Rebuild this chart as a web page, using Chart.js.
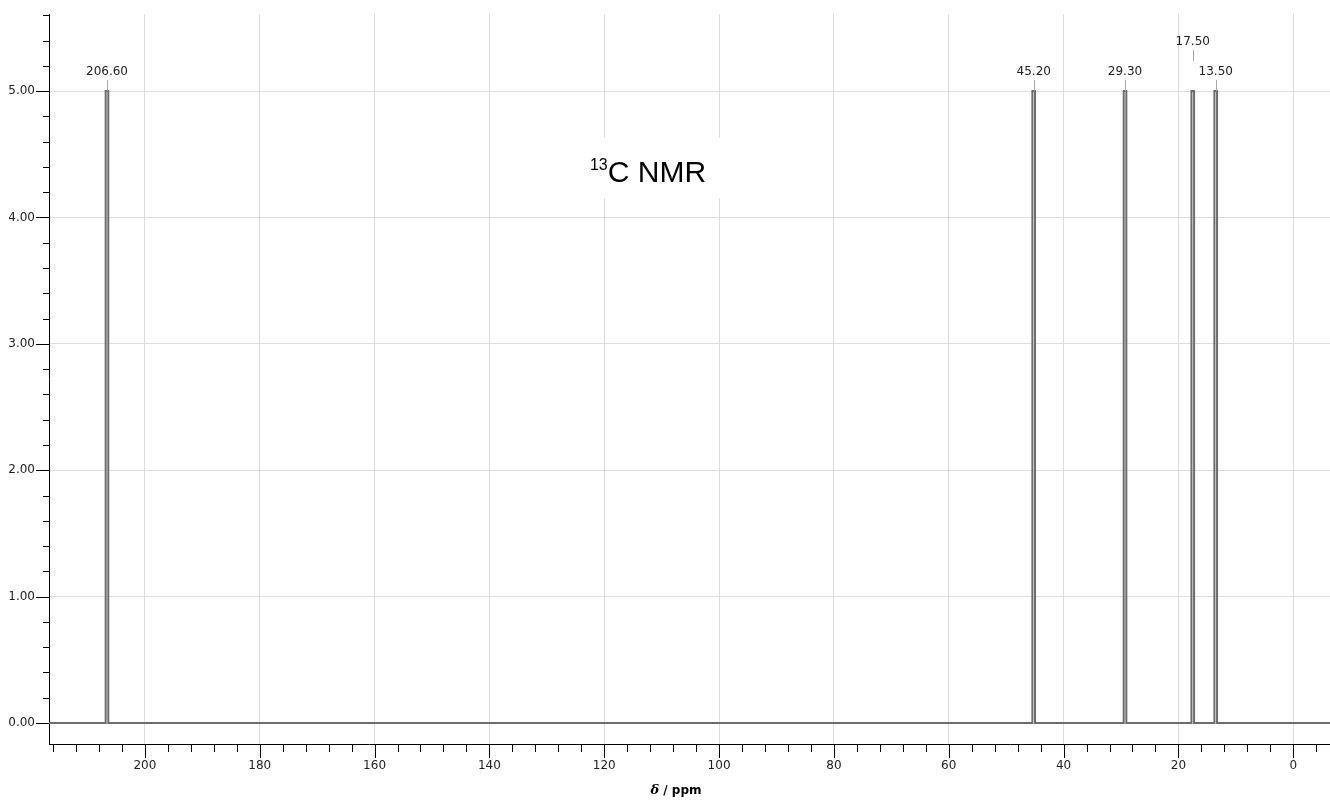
<!DOCTYPE html>
<html>
<head>
<meta charset="utf-8">
<script src="https://cdn.jsdelivr.net/npm/chart.js@4/dist/chart.umd.min.js"></script>
<style>
  body { margin: 0; background: #fff; }
  canvas { display: block; }
</style>
</head>
<body>
<canvas id="nmrChart" width="1330" height="802"></canvas>
<script>
// peak list
const peakShifts = [206.6, 45.2, 29.3, 17.5, 13.5];
const peakHeights = [5, 5, 5, 5, 5];
const peakLabels = ['206.60', '45.20', '29.30', '17.50', '13.50'];

// axis ranges
const ppmRange = [-6.4, 216.7];
const intensityRange = [-0.166, 5.61];

const peakHalfWidth = 0.23;
const tickFont = '12px "DejaVu Sans"';

function buildSpectrum() {
    const pts = [{x: ppmRange[1], y: 0}];
    peakShifts.forEach((p, i) => {
        pts.push({x: p + peakHalfWidth, y: 0});
        pts.push({x: p + peakHalfWidth, y: peakHeights[i]});
        pts.push({x: p - peakHalfWidth, y: peakHeights[i]});
        pts.push({x: p - peakHalfWidth, y: 0});
    });
    pts.push({x: ppmRange[0], y: 0});
    return pts;
}

const isMajorX = v => Math.abs(v % 20) < 1e-6;
const isMajorY = v => Math.abs(v - Math.round(v)) < 1e-6;

// white box + title behind the data
const titlePlugin = {
    id: 'nmrTitle',
    beforeDatasetsDraw(chart) {
        const ctx = chart.ctx;
        ctx.save();
        ctx.fillStyle = '#fff';
        ctx.fillRect(548, 138, 200, 60);
        ctx.fillStyle = '#000';
        ctx.textBaseline = 'alphabetic';
        ctx.textAlign = 'left';
        ctx.font = '16px "Liberation Sans"';
        const supW = ctx.measureText('13').width;
        ctx.font = '30px "Liberation Sans"';
        const mainW = ctx.measureText('C NMR').width;
        const x0 = 648 - (supW + mainW) / 2;
        ctx.font = '16px "Liberation Sans"';
        ctx.fillText('13', x0, 170);
        ctx.font = '30px "Liberation Sans"';
        ctx.fillText('C NMR', x0 + supW, 182);
        ctx.restore();
    }
};

// tick marks, peak labels and x-axis title
const decorPlugin = {
    id: 'nmrDecor',
    afterDraw(chart) {
        const ctx = chart.ctx;
        const area = chart.chartArea;
        const xs = chart.scales.x, ys = chart.scales.y;
        ctx.save();
        ctx.strokeStyle = '#000';
        ctx.lineWidth = 1;
        ctx.beginPath();
        xs.ticks.forEach(t => {
            const px = Math.round(xs.getPixelForValue(t.value)) + 0.5;
            const len = isMajorX(t.value) ? 14 : 8;
            ctx.moveTo(px, area.bottom);
            ctx.lineTo(px, area.bottom + len);
        });
        ys.ticks.forEach(t => {
            const py = Math.round(ys.getPixelForValue(t.value)) + 0.5;
            const len = isMajorY(t.value) ? 13 : 6;
            ctx.moveTo(area.left - len, py);
            ctx.lineTo(area.left, py);
        });
        ctx.stroke();

        // peak labels, raised one level when they would collide
        ctx.font = tickFont;
        ctx.textAlign = 'center';
        ctx.textBaseline = 'middle';
        const placed = [];
        for (let i = peakShifts.length - 1; i >= 0; i--) {
            const px = xs.getPixelForValue(peakShifts[i]);
            const w = ctx.measureText(peakLabels[i]).width + 4;
            let level = 0;
            while (placed.some(p => p.level === level && Math.abs(p.x - px) < (p.w + w) / 2)) level++;
            placed.push({x: px, w: w, level: level});
            const top = ys.getPixelForValue(peakHeights[i]);
            const cy = top - 19 - level * 30;
            ctx.fillStyle = '#222';
            ctx.fillText(peakLabels[i], px, cy);
            ctx.strokeStyle = '#aaa';
            ctx.beginPath();
            ctx.moveTo(Math.round(px) + 0.5, cy + 8);
            ctx.lineTo(Math.round(px) + 0.5, cy + 19);
            ctx.stroke();
        }

        // axis title: italic delta + bold unit
        ctx.fillStyle = '#000';
        ctx.textAlign = 'left';
        ctx.textBaseline = 'alphabetic';
        ctx.font = 'italic bold 13px "DejaVu Serif"';
        const dW = ctx.measureText('\u03b4').width;
        ctx.font = 'bold 12px "DejaVu Sans"';
        const uW = ctx.measureText(' / ppm').width;
        const tx = 676 - (dW + uW) / 2;
        ctx.font = 'italic bold 13px "DejaVu Serif"';
        ctx.fillText('\u03b4', tx, 794);
        ctx.font = 'bold 12px "DejaVu Sans"';
        ctx.fillText(' / ppm', tx + dW, 794);
        ctx.restore();
    }
};

const ctx = document.getElementById('nmrChart');
const nmrChart = new Chart(ctx, {
    type: 'line',
    data: {
        datasets: [{
            label: '13C NMR',
            data: buildSpectrum(),
            borderColor: '#6c6c6c',
            borderWidth: 2,
            pointRadius: 0,
            tension: 0,
            fill: false
        }]
    },
    options: {
        responsive: false,
        animation: false,
        layout: { padding: { top: 14, left: 0, right: 0, bottom: 0 } },
        plugins: {
            legend: { display: false },
            tooltip: { enabled: false },
            title: { display: false }
        },
        scales: {
            x: {
                type: 'linear',
                reverse: true,
                min: ppmRange[0],
                max: ppmRange[1],
                afterFit: s => { s.height = 58; s.paddingLeft = 0; s.paddingRight = 0; },
                border: { display: true, color: '#000', width: 1 },
                grid: {
                    drawTicks: false,
                    color: c => (c.tick && isMajorX(c.tick.value)) ? '#dddddd' : 'rgba(0,0,0,0)'
                },
                ticks: {
                    stepSize: 4,
                    includeBounds: false,
                    autoSkip: false,
                    maxRotation: 0,
                    padding: 15,
                    color: '#222',
                    font: { family: 'DejaVu Sans', size: 12 },
                    callback: v => isMajorX(v) ? String(Math.round(v)) : ''
                }
            },
            y: {
                min: intensityRange[0],
                max: intensityRange[1],
                afterFit: s => { s.width = 49; s.paddingTop = 0; s.paddingBottom = 0; },
                border: { display: true, color: '#000', width: 1 },
                grid: {
                    drawTicks: false,
                    color: c => (c.tick && isMajorY(c.tick.value)) ? '#dddddd' : 'rgba(0,0,0,0)'
                },
                ticks: {
                    stepSize: 0.2,
                    includeBounds: false,
                    autoSkip: false,
                    padding: 14,
                    color: '#222',
                    font: { family: 'DejaVu Sans', size: 12 },
                    callback: v => isMajorY(v) ? v.toFixed(2) : ''
                }
            }
        }
    },
    plugins: [titlePlugin, decorPlugin]
});
</script>
</body>
</html>
